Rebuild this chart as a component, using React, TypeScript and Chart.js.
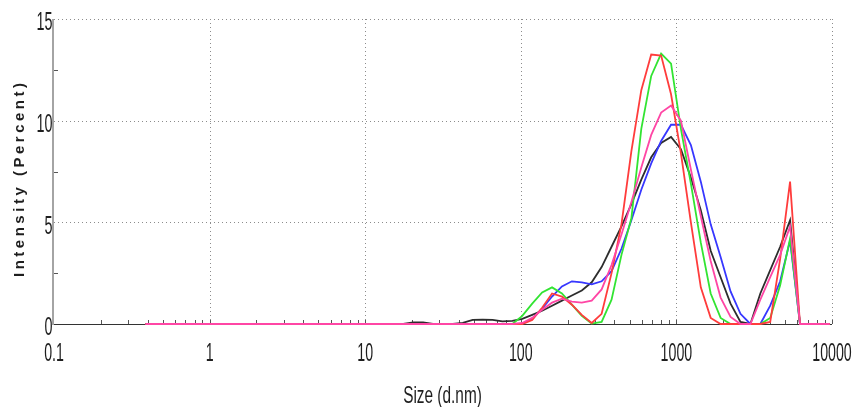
import React, { useEffect, useRef } from "react";
import { Chart, registerables } from "chart.js";

Chart.register(...registerables);

// Size bins (d.nm)
const sizes = [
  0.387, 0.448, 0.519, 0.601, 0.696, 0.806, 0.933, 1.08, 1.251, 1.45,
  1.679, 1.944, 2.251, 2.607, 3.019, 3.496, 4.049, 4.689, 5.43, 6.288,
  7.282, 8.433, 9.767, 11.31, 13.09, 15.17, 17.57, 20.35, 23.56, 27.28,
  31.59, 36.59, 42.37, 49.08, 56.83, 65.81, 76.22, 88.27, 102.2, 118.4,
  137.1, 158.8, 183.8, 212.9, 246.6, 285.6, 330.7, 383.0, 443.6, 513.7,
  594.8, 688.9, 797.8, 923.9, 1069, 1239, 1435, 1661, 1924, 2229,
  2581, 2989, 3462, 4008, 4643, 5377, 6227, 7210, 8350, 9670,
];

// Intensity (%) per run
const redRun = [
  0, 0, 0, 0, 0, 0, 0, 0, 0, 0,
  0, 0, 0, 0, 0, 0, 0, 0, 0, 0,
  0, 0, 0, 0, 0, 0, 0, 0, 0, 0,
  0, 0, 0, 0, 0, 0, 0, 0, 0, 0.2,
  0.8, 1.5, 1.35, 0.95, 0.45, 0.05, 0.5, 2.5, 4.9, 8.5,
  11.5, 13.25, 13.2, 11.3, 8.4, 5.0, 1.8, 0.3, 0, 0,
  0, 0, 0, 0.1, 3.2, 7.0, 0, 0, 0, 0,
];
const greenRun = [
  0, 0, 0, 0, 0, 0, 0, 0, 0, 0,
  0, 0, 0, 0, 0, 0, 0, 0, 0, 0,
  0, 0, 0, 0, 0, 0, 0, 0, 0, 0,
  0, 0, 0, 0, 0, 0, 0, 0, 0.4, 1.0,
  1.55, 1.8, 1.5, 0.95, 0.4, 0.02, 0.1, 1.2, 3.4, 5.2,
  9.6, 12.2, 13.3, 12.8, 9.6, 6.9, 4.0, 1.5, 0.3, 0,
  0, 0, 0, 0.3, 1.9, 4.2, 0, 0, 0, 0,
];
const blueRun = [
  0, 0, 0, 0, 0, 0, 0, 0, 0, 0,
  0, 0, 0, 0, 0, 0, 0, 0, 0, 0,
  0, 0, 0, 0, 0, 0, 0, 0, 0, 0,
  0, 0, 0, 0, 0, 0, 0, 0, 0.02, 0.25,
  0.75, 1.35, 1.85, 2.1, 2.05, 1.95, 2.1, 2.6, 3.7, 5.1,
  6.6, 7.9, 9.0, 9.8, 9.8, 8.8, 7.0, 4.9, 3.3, 1.6,
  0.5, 0, 0, 0.9, 2.1, 4.1, 0, 0, 0, 0,
];
const blackRun = [
  0, 0, 0, 0, 0, 0, 0, 0, 0, 0,
  0, 0, 0, 0, 0, 0, 0, 0, 0, 0,
  0, 0, 0, 0, 0, 0, 0, 0.08, 0.08, 0,
  0, 0, 0.05, 0.2, 0.21, 0.2, 0.13, 0.15, 0.25, 0.45,
  0.65, 0.9, 1.15, 1.4, 1.65, 2.05, 2.8, 3.8, 4.8, 5.9,
  7.1, 8.2, 8.9, 9.2, 8.6, 7.2, 5.6, 3.6, 2.3, 1.0,
  0.1, 0, 1.5, 2.65, 3.8, 5.1, 0, 0, 0, 0,
];
const pinkRun = [
  0, 0, 0, 0, 0, 0, 0, 0, 0, 0,
  0, 0, 0, 0, 0, 0, 0, 0, 0, 0,
  0, 0, 0, 0, 0, 0, 0, 0, 0, 0,
  0, 0, 0, 0, 0, 0, 0, 0, 0.05, 0.3,
  0.7, 1.05, 1.25, 1.1, 1.05, 1.15, 1.7, 2.9, 4.4, 6.0,
  7.7, 9.3, 10.4, 10.75, 10.0, 7.6, 5.3, 3.1, 1.3, 0.35,
  0, 0, 1.2, 2.3, 3.4, 4.8, 0, 0, 0, 0,
];

const xTickValues = [0.1, 1, 10, 100, 1000, 10000];
const xTickLabels = ["0.1", "1", "10", "100", "1000", "10000"];
const yTickValues = [0, 5, 10, 15];
const yTickLabels = ["0", "5", "10", "15"];
const xTitle = "Size (d.nm)";
const yTitle = "Intensity (Percent)";

const series = [
  { label: "Run 5", values: pinkRun, color: "rgb(255,70,165)" },
  { label: "Run 1", values: redRun, color: "rgb(255,60,60)" },
  { label: "Run 2", values: greenRun, color: "rgb(50,228,50)" },
  { label: "Run 3", values: blueRun, color: "rgb(55,55,255)" },
  { label: "Run 4", values: blackRun, color: "rgb(45,45,45)" },
];

function stretchedText(
  ctx: CanvasRenderingContext2D,
  text: string,
  x: number,
  y: number,
  size: number,
  sx: number,
  sy: number,
  align: CanvasTextAlign
) {
  ctx.save();
  ctx.translate(x, y);
  ctx.scale(sx, sy);
  ctx.font = `${size}px "Liberation Sans", Arial, sans-serif`;
  ctx.textAlign = align;
  ctx.textBaseline = "alphabetic";
  ctx.fillStyle = "#1e1e1e";
  ctx.fillText(text, 0, 0);
  ctx.restore();
}

const decor = {
  id: "decor",
  beforeDatasetsDraw(chart: any) {
    const ctx: CanvasRenderingContext2D = chart.ctx;
    const { left, right, top, bottom } = chart.chartArea;
    const xs = chart.scales.x;
    const ys = chart.scales.y;
    ctx.save();
    // dotted grid
    ctx.strokeStyle = "#8c8c8c";
    ctx.lineWidth = 1;
    ctx.setLineDash([1, 3]);
    for (const v of xTickValues.slice(1)) {
      const px = Math.round(xs.getPixelForValue(v)) + 0.5;
      ctx.beginPath();
      ctx.moveTo(px, top);
      ctx.lineTo(px, bottom);
      ctx.stroke();
    }
    for (const v of yTickValues.slice(1)) {
      const py = Math.round(ys.getPixelForValue(v)) + 0.5;
      ctx.beginPath();
      ctx.moveTo(left, py);
      ctx.lineTo(right, py);
      ctx.stroke();
    }
    ctx.setLineDash([]);
    // left axis
    ctx.strokeStyle = "#a4a4a4";
    ctx.lineWidth = 2;
    ctx.beginPath();
    ctx.moveTo(left - 1, top);
    ctx.lineTo(left - 1, bottom + 1);
    ctx.stroke();
    // bottom axis
    ctx.strokeStyle = "#333";
    ctx.lineWidth = 1;
    ctx.beginPath();
    ctx.moveTo(left, Math.round(bottom) + 0.5);
    ctx.lineTo(right, Math.round(bottom) + 0.5);
    ctx.stroke();
    // x minor ticks
    ctx.strokeStyle = "#555";
    for (const d of xTickValues) {
      for (let k = 1; k <= 9; k++) {
        const v = d * k;
        if (v > 10000 || v <= 0.1) continue;
        const px = Math.round(xs.getPixelForValue(v)) + 0.5;
        ctx.beginPath();
        ctx.moveTo(px, bottom);
        ctx.lineTo(px, bottom - 4);
        ctx.stroke();
      }
    }
    // y minor ticks
    for (let v = 2.5; v < 15; v += 5) {
      const py = Math.round(ys.getPixelForValue(v)) + 0.5;
      ctx.beginPath();
      ctx.moveTo(left, py);
      ctx.lineTo(left + 4, py);
      ctx.stroke();
    }
    ctx.restore();
  },
  afterDraw(chart: any) {
    const ctx: CanvasRenderingContext2D = chart.ctx;
    const { left } = chart.chartArea;
    const xs = chart.scales.x;
    const ys = chart.scales.y;
    yTickValues.forEach((v, i) => {
      const py = ys.getPixelForValue(v);
      stretchedText(ctx, yTickLabels[i], left - 1.5, py + 11.2, 20, 0.72, 1.28, "right");
    });
    xTickValues.forEach((v, i) => {
      const px = xs.getPixelForValue(v);
      stretchedText(ctx, xTickLabels[i], px, 361.3, 20, 0.71, 1.28, "center");
    });
    stretchedText(ctx, xTitle, 442.5, 403.3, 20, 0.77, 1.17, "center");
    // y title
    ctx.save();
    ctx.translate(24, 180);
    ctx.rotate(-Math.PI / 2);
    ctx.font = 'bold 15px "Liberation Sans", Arial, sans-serif';
    ctx.fillStyle = "#1e1e1e";
    const w0 = ctx.measureText(yTitle).width;
    const sp = (194 - w0) / (yTitle.length - 1);
    (ctx as any).letterSpacing = `${sp}px`;
    ctx.textAlign = "left";
    ctx.textBaseline = "alphabetic";
    ctx.fillText(yTitle, -97, 0);
    ctx.restore();
  },
};

export default function App() {
  const canvasRef = useRef<HTMLCanvasElement | null>(null);

  useEffect(() => {
    document.body.style.margin = "0";
    const canvas = canvasRef.current;
    if (!canvas) return;
    const chart = new Chart(canvas, {
      type: "line",
      data: {
        datasets: series.map((s, i) => ({
          label: s.label,
          data: sizes.map((x, j) => ({ x, y: s.values[j] })),
          borderColor: s.color,
          backgroundColor: s.color,
          borderWidth: 1.8,
          pointRadius: 0,
          tension: 0,
          fill: false,
          clip: 3,
          order: i,
        })),
      },
      options: {
        animation: false,
        responsive: false,
        devicePixelRatio: 1,
        layout: { padding: { top: 19, right: 23, left: 0, bottom: 0 } },
        plugins: { legend: { display: false }, tooltip: { enabled: false } },
        scales: {
          x: {
            type: "logarithmic",
            min: 0.1,
            max: 10000,
            grid: { display: false },
            border: { display: false },
            ticks: { display: false },
            afterFit: (s: any) => {
              s.height = 83;
            },
          },
          y: {
            type: "linear",
            min: 0,
            max: 15,
            grid: { display: false },
            border: { display: false },
            ticks: { display: false, stepSize: 5 },
            afterFit: (s: any) => {
              s.width = 54;
            },
          },
        },
      },
      plugins: [decor],
    });
    return () => chart.destroy();
  }, []);

  return (
    <div style={{ width: 855, height: 407, background: "#fff" }}>
      <canvas ref={canvasRef} width={855} height={407} style={{ display: "block" }} />
    </div>
  );
}
